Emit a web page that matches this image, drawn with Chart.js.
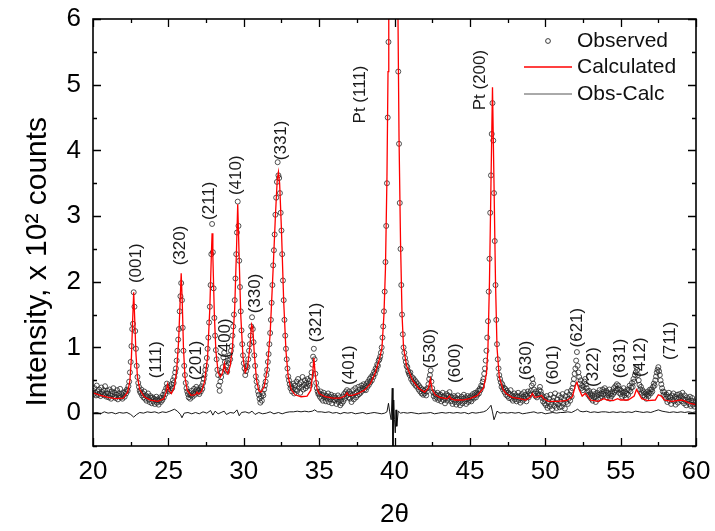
<!DOCTYPE html>
<html><head><meta charset="utf-8">
<script src="https://cdn.jsdelivr.net/npm/chart.js@4.4.0/dist/chart.umd.min.js"></script>
<style>html,body{margin:0;padding:0;background:#fff}canvas{display:block}</style>
</head><body>
<canvas id="c" width="715" height="531"></canvas>
<script>
// ---- data ----
const obsStartTheta = 20;
const obsStepTheta = 0.05;
// observed intensities (x 10^2 counts), one row per degree of 2theta, 0.05 deg steps
const obsIntensity = [
 [0.34,0.29,0.38,0.31,0.27,0.42,0.33,0.28,0.36,0.30,0.26,0.39,0.32,0.29,0.35,0.27,0.41,0.30,0.25,0.34],
 [0.30,0.24,0.36,0.27,0.22,0.33,0.29,0.38,0.25,0.31,0.23,0.28,0.35,0.21,0.30,0.26,0.37,0.24,0.29,0.22],
 [0.27,0.31,0.25,0.33,0.30,0.36,0.34,0.41,0.48,0.62,0.78,1.02,1.28,1.36,1.84,1.62,1.25,0.98,0.72,0.55],
 [0.46,0.40,0.34,0.31,0.36,0.27,0.30,0.24,0.33,0.22,0.27,0.19,0.25,0.30,0.21,0.17,0.26,0.23,0.15,0.24],
 [0.18,0.22,0.14,0.20,0.25,0.16,0.21,0.13,0.19,0.24,0.17,0.23,0.20,0.28,0.24,0.33,0.29,0.38,0.45,0.40],
 [0.36,0.33,0.41,0.35,0.44,0.38,0.50,0.46,0.55,0.62,0.68,0.80,0.95,1.12,1.28,1.55,1.78,1.98,1.72,1.30],
 [0.95,0.72,0.58,0.46,0.38,0.33,0.29,0.24,0.31,0.22,0.27,0.34,0.25,0.30,0.37,0.28,0.33,0.40,0.36,0.31],
 [0.34,0.29,0.38,0.33,0.41,0.37,0.46,0.52,0.58,0.66,0.72,0.84,0.98,1.15,1.38,1.62,1.95,2.42,2.88,2.45],
 [1.90,1.45,1.18,0.96,0.82,0.66,0.58,0.42,0.34,0.48,0.55,0.62,0.70,0.85,0.92,0.78,0.66,0.72,0.63,0.80],
 [0.76,0.88,0.82,0.95,1.02,1.18,1.32,1.50,1.72,2.05,2.42,2.75,3.22,2.85,2.32,1.92,1.55,1.26,1.05,0.88],
 [0.76,0.68,0.58,0.64,0.72,0.70,0.82,0.95,1.05,1.18,1.32,1.46,1.28,1.08,0.88,0.72,0.56,0.48,0.40,0.33],
 [0.28,0.22,0.16,0.25,0.19,0.30,0.27,0.36,0.42,0.48,0.58,0.66,0.78,0.90,1.05,1.22,1.42,1.68,1.95,2.25],
 [2.48,2.72,3.02,3.28,3.52,3.82,3.62,3.58,3.35,3.05,2.78,2.42,2.02,1.72,1.42,1.18,0.98,0.82,0.68,0.56],
 [0.50,0.44,0.38,0.41,0.33,0.37,0.45,0.30,0.42,0.36,0.48,0.34,0.52,0.39,0.44,0.31,0.47,0.40,0.55,0.36],
 [0.43,0.50,0.38,0.46,0.41,0.52,0.45,0.49,0.42,0.55,0.62,0.74,0.86,0.98,0.82,0.60,0.46,0.38,0.33,0.29],
 [0.30,0.25,0.33,0.22,0.28,0.19,0.31,0.24,0.27,0.18,0.26,0.22,0.30,0.17,0.25,0.21,0.28,0.15,0.24,0.20],
 [0.26,0.19,0.23,0.14,0.21,0.27,0.17,0.24,0.12,0.20,0.15,0.25,0.18,0.29,0.22,0.32,0.26,0.35,0.30,0.24],
 [0.33,0.22,0.29,0.17,0.26,0.35,0.21,0.30,0.38,0.24,0.32,0.27,0.40,0.29,0.36,0.31,0.42,0.34,0.38,0.44],
 [0.36,0.41,0.35,0.45,0.40,0.48,0.43,0.52,0.47,0.55,0.50,0.58,0.55,0.63,0.60,0.68,0.66,0.74,0.72,0.80],
 [0.82,0.86,0.92,1.00,1.15,1.32,1.55,1.85,2.30,2.85,3.50,4.50,5.65,7.5,9.5,11.5,13.0,14.0,14.5,14.0],
 [13.5,12.0,10.0,8.2,6.5,5.2,4.1,3.2,2.5,1.95,1.5,1.2,1.0,0.92,0.84,0.78,0.72,0.70,0.64,0.61],
 [0.58,0.62,0.52,0.55,0.48,0.53,0.45,0.50,0.42,0.47,0.40,0.44,0.36,0.41,0.33,0.38,0.30,0.36,0.28,0.34],
 [0.30,0.36,0.27,0.33,0.38,0.44,0.52,0.58,0.65,0.48,0.38,0.32,0.26,0.30,0.22,0.28,0.24,0.31,0.20,0.27],
 [0.22,0.28,0.18,0.25,0.31,0.20,0.26,0.15,0.23,0.29,0.19,0.27,0.22,0.32,0.25,0.18,0.24,0.14,0.21,0.26],
 [0.17,0.24,0.13,0.21,0.27,0.16,0.22,0.12,0.19,0.25,0.15,0.22,0.28,0.18,0.24,0.14,0.21,0.26,0.17,0.23],
 [0.20,0.26,0.18,0.24,0.29,0.22,0.27,0.31,0.24,0.30,0.28,0.34,0.30,0.37,0.35,0.42,0.40,0.48,0.52,0.60],
 [0.68,0.80,0.95,1.15,1.40,1.85,2.35,3.05,3.62,4.25,4.72,4.15,3.35,2.62,1.95,1.42,1.05,0.82,0.68,0.58],
 [0.52,0.47,0.40,0.44,0.36,0.39,0.32,0.37,0.28,0.34,0.26,0.31,0.23,0.29,0.35,0.22,0.27,0.19,0.25,0.30],
 [0.21,0.27,0.18,0.25,0.31,0.20,0.26,0.16,0.23,0.29,0.19,0.25,0.32,0.22,0.28,0.18,0.26,0.33,0.24,0.30],
 [0.28,0.34,0.42,0.52,0.45,0.36,0.30,0.26,0.33,0.24,0.30,0.27,0.35,0.40,0.33,0.28,0.23,0.18,0.25,0.15],
 [0.20,0.12,0.26,0.08,0.17,0.22,0.10,0.28,0.14,0.06,0.19,0.24,0.11,0.30,0.16,0.08,0.21,0.13,0.27,0.09],
 [0.18,0.24,0.10,0.29,0.15,0.21,0.07,0.26,0.17,0.32,0.14,0.22,0.28,0.19,0.34,0.25,0.38,0.45,0.52,0.60],
 [0.68,0.80,0.93,0.72,0.62,0.55,0.45,0.50,0.38,0.42,0.35,0.40,0.48,0.52,0.44,0.38,0.33,0.28,0.34,0.25],
 [0.30,0.22,0.27,0.19,0.33,0.24,0.29,0.17,0.26,0.31,0.21,0.28,0.35,0.23,0.30,0.26,0.36,0.29,0.33,0.38],
 [0.28,0.34,0.24,0.31,0.27,0.36,0.22,0.30,0.26,0.33,0.29,0.38,0.32,0.41,0.35,0.44,0.37,0.42,0.31,0.36],
 [0.29,0.34,0.25,0.31,0.38,0.27,0.33,0.23,0.30,0.36,0.28,0.35,0.42,0.33,0.39,0.46,0.40,0.52,0.48,0.58],
 [0.62,0.70,0.66,0.58,0.50,0.43,0.36,0.40,0.31,0.35,0.27,0.32,0.25,0.30,0.22,0.28,0.33,0.26,0.31,0.36],
 [0.30,0.36,0.33,0.40,0.45,0.42,0.50,0.56,0.62,0.66,0.70,0.64,0.58,0.50,0.44,0.38,0.33,0.28,0.32,0.25],
 [0.22,0.28,0.17,0.25,0.31,0.19,0.24,0.14,0.27,0.21,0.30,0.18,0.25,0.13,0.22,0.28,0.16,0.24,0.29,0.20],
 [0.26,0.18,0.31,0.22,0.15,0.27,0.20,0.12,0.24,0.17,0.21,0.14,0.25,0.11,0.19,0.23,0.13,0.18,0.10,0.16],
 [0.14]
];

const calcTheta = [20.0,20.5,21.0,21.5,22.0,22.3,22.45,22.55,22.62,22.7,22.78,22.85,22.95,23.1,23.4,23.8,24.3,24.7,24.85,24.95,25.05,25.2,25.4,25.55,25.68,25.78,25.85,25.92,26.0,26.1,26.25,26.5,26.8,26.9,27.0,27.2,27.4,27.6,27.75,27.85,27.9,27.95,28.05,28.15,28.3,28.45,28.6,28.72,28.8,28.95,29.1,29.25,29.4,29.52,29.6,29.68,29.8,29.95,30.1,30.25,30.4,30.52,30.6,30.7,30.85,31.0,31.15,31.35,31.55,31.75,31.95,32.1,32.22,32.3,32.38,32.5,32.65,32.8,32.95,33.15,33.4,33.8,34.2,34.45,34.58,34.65,34.73,34.85,35.0,35.4,35.9,36.4,36.7,36.85,36.95,37.2,37.6,38.0,38.4,38.7,39.0,39.17,39.3,39.4,39.5,39.57,39.62,39.7,39.8,39.9,40.0,40.1,40.18,40.25,40.3,40.4,40.5,40.6,40.8,41.2,41.6,42.0,42.25,42.38,42.5,42.7,43.0,43.5,43.65,43.75,44.0,44.5,45.0,45.5,45.9,46.1,46.2,46.3,46.4,46.5,46.6,46.7,46.8,46.95,47.2,47.4,47.8,48.3,48.7,49.0,49.15,49.3,49.55,49.75,49.9,50.2,50.8,51.4,51.8,52.0,52.1,52.25,52.45,52.65,52.75,53.0,53.5,53.9,54.1,54.5,54.8,55.0,55.5,55.9,56.05,56.2,56.4,56.8,57.3,57.5,57.7,57.9,58.4,59.0,59.2,59.6,60.0];
const calcIntensity = [0.31,0.27,0.24,0.22,0.23,0.32,0.5,0.85,1.35,1.84,1.35,0.9,0.55,0.36,0.25,0.2,0.18,0.22,0.32,0.44,0.34,0.3,0.4,0.65,1.1,1.7,2.13,1.7,1.0,0.55,0.35,0.27,0.28,0.32,0.29,0.33,0.48,0.85,1.6,2.4,2.74,2.4,1.5,0.95,0.62,0.55,0.62,0.76,0.65,0.6,0.72,1.0,1.6,2.5,3.18,2.5,1.5,0.85,0.62,0.7,1.0,1.35,1.3,0.9,0.5,0.34,0.32,0.4,0.65,1.2,2.2,3.0,3.55,3.67,3.5,2.8,1.7,0.95,0.55,0.36,0.28,0.25,0.26,0.35,0.62,0.84,0.62,0.38,0.3,0.25,0.23,0.23,0.26,0.31,0.27,0.27,0.3,0.35,0.45,0.6,0.82,1.0,1.5,2.2,3.6,5.2,6.5,9,12,13.5,13,10,7.5,5.5,4.2,2.6,1.5,1.0,0.72,0.5,0.38,0.32,0.38,0.52,0.36,0.28,0.24,0.22,0.26,0.22,0.2,0.2,0.22,0.27,0.38,0.6,1.0,2.0,3.5,4.96,3.5,2.0,1.0,0.55,0.36,0.3,0.24,0.22,0.2,0.24,0.3,0.24,0.25,0.27,0.22,0.18,0.18,0.19,0.25,0.42,0.47,0.36,0.26,0.3,0.28,0.2,0.18,0.22,0.2,0.19,0.22,0.2,0.2,0.26,0.36,0.3,0.22,0.19,0.2,0.28,0.26,0.2,0.18,0.2,0.19,0.15,0.13];

const diffTheta = [20.0,20.25,20.5,20.75,21.0,21.25,21.5,21.75,22.0,22.25,22.5,22.7,22.9,23.1,23.35,23.6,23.85,24.1,24.35,24.6,24.85,25.1,25.4,25.6,25.8,25.9,26.05,26.3,26.55,26.8,27.05,27.3,27.55,27.8,27.95,28.1,28.3,28.5,28.7,28.85,29.1,29.35,29.55,29.7,29.85,30.1,30.35,30.55,30.75,31.0,31.25,31.5,31.75,32.0,32.3,32.55,32.8,33.05,33.3,33.55,33.8,34.05,34.3,34.55,34.7,34.9,35.15,35.4,35.65,35.9,36.15,36.4,36.65,36.9,37.15,37.4,37.65,37.9,38.15,38.4,38.65,38.9,39.15,39.35,39.5,39.6,39.68,39.78,39.85,39.9,39.95,40.0,40.05,40.1,40.15,40.25,40.4,40.6,40.85,41.1,41.35,41.6,41.85,42.1,42.4,42.65,42.9,43.15,43.4,43.65,43.9,44.15,44.4,44.65,44.9,45.15,45.4,45.65,45.9,46.1,46.3,46.4,46.5,46.6,46.7,46.8,47.0,47.25,47.5,47.75,48.0,48.25,48.5,48.75,49.0,49.25,49.5,49.75,50.0,50.25,50.5,50.75,51.0,51.25,51.5,51.75,52.0,52.15,52.3,52.5,52.75,53.0,53.25,53.5,53.75,54.0,54.25,54.5,54.75,55.0,55.25,55.5,55.75,56.0,56.25,56.5,56.75,57.0,57.25,57.5,57.75,58.0,58.25,58.5,58.75,59.0,59.25,59.5,59.75,60.0];
const diffIntensity = [0.0,0.01,-0.01,0.02,0.0,0.01,-0.01,0.01,0.0,0.01,-0.02,-0.06,-0.02,0.01,0.0,0.02,0.01,0.02,0.0,0.02,0.01,0.03,0.06,0.03,-0.02,-0.07,0.0,0.01,-0.01,0.01,-0.01,0.02,0.0,0.04,-0.03,0.03,-0.01,0.01,0.03,-0.02,0.01,0.0,0.05,-0.04,0.01,0.02,0.0,0.03,-0.02,0.01,-0.01,0.0,0.02,-0.01,0.01,-0.01,0.01,0.02,0.02,0.03,0.02,0.03,0.02,0.03,0.05,0.02,0.02,0.01,0.02,0.0,0.01,-0.01,0.01,0.0,0.01,-0.01,0.0,0.01,-0.01,0.0,0.01,0.0,-0.01,0.0,0.02,0.15,0.02,-0.1,0.38,-0.5,0.2,-0.1,-0.3,0.05,-0.2,0.03,0.0,0.01,0.0,0.01,0.0,-0.01,0.0,0.0,0.01,-0.01,0.0,0.01,0.0,0.01,0.0,0.01,0.0,0.01,-0.01,0.01,0.0,0.01,0.02,0.04,0.09,0.12,0.02,-0.1,-0.04,0.03,0.0,0.01,0.0,0.01,0.0,0.01,-0.01,0.0,0.01,0.02,0.0,0.01,-0.01,0.0,0.01,0.0,0.01,0.01,0.02,0.01,0.04,0.06,0.03,0.02,0.03,0.01,0.02,0.01,0.02,0.02,0.01,0.02,0.01,0.02,0.01,0.02,0.01,0.03,0.02,0.01,0.02,0.01,0.03,0.05,0.03,0.02,0.01,0.02,0.01,0.02,0.01,0.02,0.01,0.02];

const peakLabelText  = ['(001)','(111)','(320)','(201)','(211)','(400)','(410)','(330)','(331)','(321)','(401)','Pt (111)','(530)','(600)','Pt (200)','(630)','(601)','(621)','(322)','(631)','(412)','(711)'];
const peakLabelTheta = [22.9,24.22,25.82,26.83,27.7,28.8,29.53,30.75,32.52,34.84,37.0,37.71,42.4,44.01,45.67,48.77,50.54,52.15,53.19,54.96,56.29,58.28];
const peakLabelLevel = [1.98,0.53,2.25,0.50,2.94,0.84,3.32,1.52,3.85,1.08,0.43,4.41,0.68,0.46,4.61,0.50,0.43,1.0,0.40,0.53,0.55,0.81];

const seriesNames = ['Observed','Calculated','Obs-Calc'];

// ---- build point lists ----
const obsPoints = [];
obsIntensity.forEach((row, r) => row.forEach((v, j) => {
  obsPoints.push({x: +(obsStartTheta + r + j * obsStepTheta).toFixed(2), y: v});
}));
const calcPoints = calcTheta.map((t, i) => ({x: t, y: calcIntensity[i]}));
const diffPoints = diffTheta.map((t, i) => ({x: t, y: diffIntensity[i]}));

const FONT = "'Liberation Sans', Arial, sans-serif";

const overlay = {
  id: 'overlay',
  afterDraw(chart) {
    const {ctx, chartArea: a, scales: {x, y}} = chart;
    ctx.save();
    ctx.strokeStyle = '#000';
    ctx.lineWidth = 1.3;
    ctx.beginPath();
    x.ticks.forEach(t => {
      const px = Math.round(x.getPixelForValue(t.value)) + 0.5;
      const len = (Math.abs(t.value % 5) < 1e-6) ? 8 : 4;
      ctx.moveTo(px, a.bottom); ctx.lineTo(px, a.bottom - len);
      ctx.moveTo(px, a.top); ctx.lineTo(px, a.top + len);
    });
    y.ticks.forEach(t => {
      const py = Math.round(y.getPixelForValue(t.value)) + 0.5;
      const len = Number.isInteger(t.value) ? 8 : 4;
      ctx.moveTo(a.left, py); ctx.lineTo(a.left + len, py);
      ctx.moveTo(a.right, py); ctx.lineTo(a.right - len, py);
    });
    ctx.stroke();
    ctx.lineWidth = 1.6;
    ctx.strokeRect(a.left, a.top, a.right - a.left, a.bottom - a.top);

    ctx.fillStyle = '#1a1a1a';
    ctx.font = "17px " + FONT;
    ctx.textAlign = 'left';
    ctx.textBaseline = 'middle';
    peakLabelText.forEach((txt, i) => {
      ctx.save();
      ctx.translate(x.getPixelForValue(peakLabelTheta[i]), y.getPixelForValue(peakLabelLevel[i]));
      ctx.rotate(-Math.PI / 2);
      ctx.fillText(txt, 0, 0);
      ctx.restore();
    });

    const ds = chart.data.datasets;
    const lx0 = a.right - 172, lx1 = a.right - 124, tx = a.right - 119;
    const rows = [a.top + 22, a.top + 48, a.top + 75];
    ctx.font = "21px " + FONT;
    ctx.fillStyle = '#111';
    ctx.beginPath();
    ctx.lineWidth = 0.9;
    ctx.strokeStyle = ds[0].borderColor;
    ctx.arc((lx0 + lx1) / 2, rows[0], 2.4, 0, Math.PI * 2);
    ctx.stroke();
    ctx.fillText(ds[0].label, tx, rows[0]);
    ctx.beginPath();
    ctx.strokeStyle = ds[1].borderColor; ctx.lineWidth = 1.3;
    ctx.moveTo(lx0, rows[1]); ctx.lineTo(lx1, rows[1]); ctx.stroke();
    ctx.fillText(ds[1].label, tx, rows[1]);
    ctx.beginPath();
    ctx.strokeStyle = '#555'; ctx.lineWidth = 1;
    ctx.moveTo(lx0, rows[2]); ctx.lineTo(lx1, rows[2]); ctx.stroke();
    ctx.fillText(ds[2].label, tx, rows[2]);
    ctx.restore();
  }
};

new Chart(document.getElementById('c'), {
  type: 'line',
  data: {
    datasets: [
      {label: seriesNames[0], data: obsPoints, showLine: false, pointStyle: 'circle',
       pointRadius: 2.5, pointBorderWidth: 0.8, borderColor: '#262626', pointBorderColor: '#262626',
       backgroundColor: 'rgba(0,0,0,0)', pointBackgroundColor: 'rgba(0,0,0,0)', order: 3},
      {label: seriesNames[1], data: calcPoints, borderColor: '#ff0000', borderWidth: 1.3,
       pointRadius: 0, tension: 0, fill: false, order: 1},
      {label: seriesNames[2], data: diffPoints, borderColor: '#000000', borderWidth: 0.9,
       pointRadius: 0, tension: 0, fill: false, order: 2}
    ]
  },
  options: {
    responsive: false,
    animation: false,
    events: [],
    layout: {padding: {top: 19, right: 19, left: 0, bottom: 0}},
    plugins: {legend: {display: false}, tooltip: {enabled: false}},
    scales: {
      x: {
        type: 'linear', min: 20, max: 60,
        grid: {display: false, drawTicks: false},
        border: {display: false},
        ticks: {stepSize: 2.5, autoSkip: false, maxRotation: 0, padding: 10, color: '#000',
                font: {family: FONT, size: 26},
                callback: v => (Math.abs(v % 5) < 1e-6 ? String(v) : '')},
        title: {display: true, text: '2θ', color: '#000', font: {family: FONT, size: 26},
                padding: {top: 0, bottom: 1}},
        afterFit: s => { s.height = 85; s.paddingLeft = 0; s.paddingRight = 0; }
      },
      y: {
        type: 'linear', min: -0.5, max: 6,
        grid: {display: false, drawTicks: false},
        border: {display: false},
        ticks: {stepSize: 0.5, autoSkip: false, padding: 12, color: '#000',
                font: {family: FONT, size: 26},
                callback: v => (Number.isInteger(v) ? String(v) : '')},
        title: {display: true, text: 'Intensity, x 10² counts       ', color: '#000',
                font: {family: FONT, size: 30}, padding: {top: 20, bottom: 0}},
        afterFit: s => { s.width = 93; s.paddingTop = 0; s.paddingBottom = 0; }
      }
    }
  },
  plugins: [overlay]
});
</script>
</body></html>
